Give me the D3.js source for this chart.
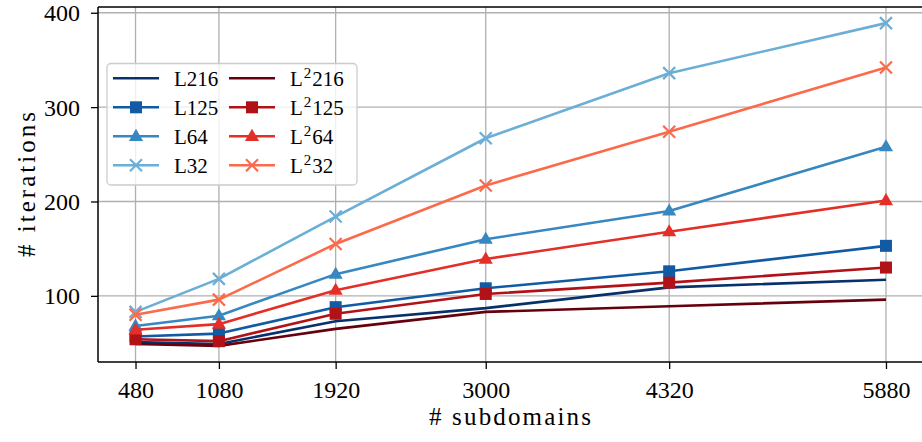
<!DOCTYPE html>
<html><head><meta charset="utf-8">
<script src="https://cdn.jsdelivr.net/npm/d3@7"></script>
<style>
html,body{margin:0;padding:0;background:#fff;}
svg{display:block;}
text{font-family:"Liberation Serif","DejaVu Serif",serif;fill:#000;}
</style></head>
<body><svg id="chart" width="922" height="442"></svg>
<script>
const subdomains = [480, 1080, 1920, 3000, 4320, 5880];
const xTicks = [480, 1080, 1920, 3000, 4320, 5880];
const yTicks = [100, 200, 300, 400];

const seriesNames = ["L216", "L125", "L64", "L32", "L²216", "L²125", "L²64", "L²32"];
const L216  = [51, 49, 73, 87, 109, 117];
const L125  = [57, 60, 88, 108, 126, 153];
const L64   = [68, 79, 123, 160, 190, 258];
const L32   = [83, 118, 184, 267, 336, 389];
const L2_216 = [49, 47, 65, 83, 89, 96];
const L2_125 = [54, 52, 81, 102, 114, 130];
const L2_64  = [64, 70, 106, 139, 168, 201];
const L2_32  = [80, 96, 155, 217, 274, 342];
const seriesValues = [L216, L125, L64, L32, L2_216, L2_125, L2_64, L2_32];
const colors = ["#08306b", "#105ba4", "#3787c0", "#6baed6", "#67000d", "#b11218", "#e32f27", "#fb6a4a"];
const markers = ["none", "square", "triangle", "x", "none", "square", "triangle", "x"];

const svg = d3.select("#chart");
const m = {left: 98, right: 922, top: 7, bottom: 362};

const xmin = d3.min(subdomains), xmax = d3.max(subdomains);
const xpad = (xmax - xmin) * 0.05;
const x = d3.scaleLinear().domain([xmin - xpad, xmax + xpad]).range([m.left, m.right + 1.5]);
const allV = seriesValues.flat();
const ymin = d3.min(allV), ymax = d3.max(allV);
const ypad = (ymax - ymin) * 0.05;
const y = d3.scaleLinear().domain([ymin - ypad, ymax + ypad]).range([m.bottom, m.top]);

// grid
const grid = svg.append("g");
grid.selectAll(".gx").data(xTicks).enter().append("line")
  .attr("x1", d => x(d)).attr("x2", d => x(d)).attr("y1", m.top).attr("y2", m.bottom)
  .attr("stroke", "#b0b0b0").attr("stroke-width", 1.3);
grid.selectAll(".gy").data(yTicks).enter().append("line")
  .attr("x1", m.left).attr("x2", m.right).attr("y1", d => y(d)).attr("y2", d => y(d))
  .attr("stroke", "#b0b0b0").attr("stroke-width", 1.3);

// lines
const line = d3.line().x((d, i) => x(subdomains[i])).y(d => y(d));
const plot = svg.append("g");
function drawMarker(g, type, cx, cy, color, s) {
  if (type === "square") {
    g.append("rect").attr("x", cx - s/2).attr("y", cy - s/2).attr("width", s).attr("height", s).attr("fill", color);
  } else if (type === "triangle") {
    const r = s * 0.62;
    g.append("path").attr("d", `M${cx},${cy - r} L${cx + r*0.95},${cy + r*0.62} L${cx - r*0.95},${cy + r*0.62}Z`).attr("fill", color);
  } else if (type === "x") {
    const r = s / 2;
    g.append("path").attr("d", `M${cx-r},${cy-r}L${cx+r},${cy+r}M${cx-r},${cy+r}L${cx+r},${cy-r}`)
      .attr("stroke", color).attr("stroke-width", 2.2).attr("fill", "none");
  }
}
seriesValues.forEach((vals, k) => {
  const g = plot.append("g");
  g.append("path").datum(vals).attr("d", line).attr("fill", "none")
    .attr("stroke", colors[k]).attr("stroke-width", 2.6).attr("stroke-linejoin", "round");
  vals.forEach((v, i) => drawMarker(g, markers[k], x(subdomains[i]), y(v), colors[k], 12));
});

// axes
const xAxis = d3.axisBottom(x).tickValues(xTicks).tickSize(7).tickPadding(8).tickFormat(d3.format("d"));
const yAxis = d3.axisLeft(y).tickValues(yTicks).tickSize(7).tickPadding(11).tickFormat(d3.format("d"));
const gx = svg.append("g").attr("transform", `translate(0,${m.bottom})`).call(xAxis);
const gy = svg.append("g").attr("transform", `translate(${m.left},0)`).call(yAxis);
[gx, gy].forEach(g => {
  g.select(".domain").remove();
  g.selectAll(".tick line").attr("stroke", "#000").attr("stroke-width", 1.3);
  g.selectAll(".tick text").attr("font-size", 24).attr("font-family", "'Liberation Serif', serif");
});
gx.selectAll(".tick text").attr("y", 36).attr("dy", 0);
gy.selectAll(".tick text").attr("dy", "0.33em");

// spines
svg.append("line").attr("x1", m.left).attr("x2", m.left).attr("y1", m.top).attr("y2", m.bottom).attr("stroke", "#000").attr("stroke-width", 1.5);
svg.append("line").attr("x1", m.left).attr("x2", m.right + 2).attr("y1", m.bottom).attr("y2", m.bottom).attr("stroke", "#000").attr("stroke-width", 1.5);
svg.append("line").attr("x1", m.left).attr("x2", m.right + 2).attr("y1", m.top).attr("y2", m.top).attr("stroke", "#000").attr("stroke-width", 1.5);

// axis labels
svg.append("text").attr("x", (m.left + m.right) / 2).attr("y", 425).attr("text-anchor", "middle")
  .attr("font-size", 25).attr("textLength", 162).attr("lengthAdjust", "spacing").text("# subdomains");
svg.append("text").attr("transform", `translate(35,${(m.top + m.bottom) / 2}) rotate(-90)`)
  .attr("text-anchor", "middle").attr("font-size", 25).attr("textLength", 145).attr("lengthAdjust", "spacing").text("# iterations");

// legend
const lg = svg.append("g");
lg.append("rect").attr("x", 107).attr("y", 63.5).attr("width", 250).attr("height", 121.5).attr("rx", 4)
  .attr("fill", "#fff").attr("fill-opacity", 0.8).attr("stroke", "#cccccc").attr("stroke-width", 1.3);
seriesNames.forEach((name, k) => {
  const col = Math.floor(k / 4), row = k % 4;
  const hx = col === 0 ? 113 : 229;
  const cy = 78.3 + row * 29;
  const g = lg.append("g");
  g.append("line").attr("x1", hx).attr("x2", hx + 46).attr("y1", cy).attr("y2", cy)
    .attr("stroke", colors[k]).attr("stroke-width", 2.6);
  drawMarker(g, markers[k], hx + 23, cy, colors[k], 12);
  const t = g.append("text").attr("x", hx + 61).attr("y", cy + 7.4).attr("font-size", 21);
  if (name.startsWith("L²")) {
    t.append("tspan").text("L");
    t.append("tspan").attr("font-size", 15).attr("dx", 1).attr("dy", -8).text("2");
    t.append("tspan").attr("dx", 1).attr("dy", 8).text(name.slice(2));
  } else {
    t.text(name);
  }
});
</script></body></html>
